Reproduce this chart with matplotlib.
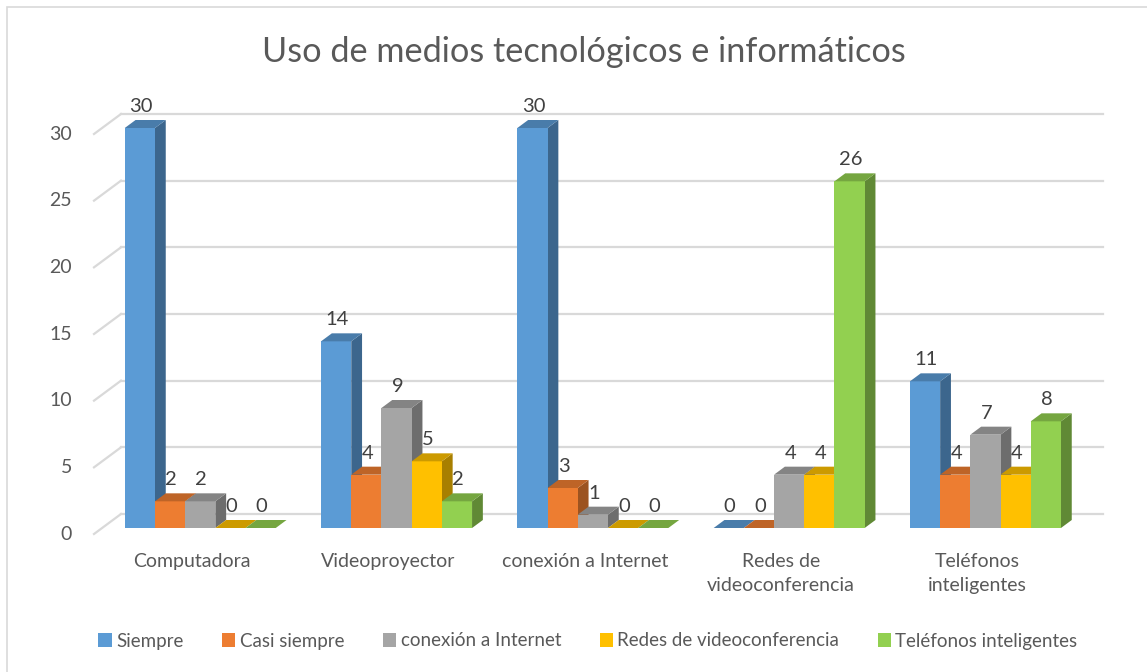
import numpy as np
import matplotlib.pyplot as plt
from matplotlib.patches import Polygon, Rectangle, Patch
from matplotlib.lines import Line2D
import matplotlib.colors as mcolors

# Datos del gráfico
categorias = ["Computadora", "Videoproyector", "conexión a Internet",
              "Redes de\nvideoconferencia", "Teléfonos\ninteligentes"]
series = ["Siempre", "Casi siempre", "conexión a Internet",
          "Redes de videoconferencia", "Teléfonos inteligentes"]
siempre = [30, 14, 30, 0, 11]
casi_siempre = [2, 4, 3, 0, 4]
conexion = [2, 9, 1, 4, 7]
redes = [0, 5, 0, 4, 4]
telefonos = [0, 2, 0, 26, 8]
valores = [siempre, casi_siempre, conexion, redes, telefonos]
colores = ["#5B9BD5", "#ED7D31", "#A5A5A5", "#FFC000", "#92D050"]
yticks = [0, 5, 10, 15, 20, 25, 30]

plt.rcParams['font.family'] = ['Lato', 'DejaVu Sans']

W, H = 1147, 672
fig = plt.figure(figsize=(W / 100, H / 100), dpi=100)

# borde del área del gráfico
fig.add_artist(Rectangle((7 / W, -0.1), 1.2, (H - 7) / H + 0.1, transform=fig.transFigure,
                         fill=False, edgecolor="#D9D9D9", lw=1.2))

# ejes: plano frontal, x de -0.5 a 4.5, y de 0 a 30
ax = fig.add_axes([94 / W, 138 / H, 981.5 / W, 400 / H])
ax.set_xlim(-0.5, 4.5)
ax.set_ylim(0, 30)
ax.axis("off")

# profundidad (en unidades de datos): 27 px en x, 20 px en y
px_x = 981.5 / 5
px_y = 400 / 30
DX = 27 / px_x
DY = 20 / px_y

# pared del fondo y líneas diagonales
gcol = "#D9D9D9"
for t in yticks:
    ax.add_line(Line2D([-0.5 + DX, 4.5 + DX], [t + DY, t + DY], color=gcol, lw=1.6,
                       clip_on=False, zorder=1))
    ax.add_line(Line2D([-0.5, -0.5 + DX], [t, t + DY], color=gcol, lw=1.6,
                       clip_on=False, zorder=1))
    ax.text(-0.5 - 22 / px_x, t, str(t), ha="right", va="center", fontsize=14,
            color="#595959")


def sombra(c, f):
    r, g, b = mcolors.to_rgb(c)
    return (r * f, g * f, b * f)


ancho = 30.2 / px_x
f0, f1 = 0.3, 0.7  # posición de la barra en profundidad
for i in range(len(categorias)):
    for j in range(len(series)):
        v = valores[j][i]
        x0 = i - 2.5 * ancho + j * ancho + f0 * DX
        x1 = x0 + ancho
        y0 = f0 * DY
        y1 = v + f0 * DY
        ddx = (f1 - f0) * DX
        ddy = (f1 - f0) * DY
        col = colores[j]
        z = 3 + j
        if v > 0:
            ax.add_patch(Polygon([[x1, y0], [x1 + ddx, y0 + ddy], [x1 + ddx, y1 + ddy], [x1, y1]],
                                 closed=True, facecolor=sombra(col, 0.66), edgecolor="none",
                                 zorder=z, clip_on=False))
            ax.add_patch(Rectangle((x0, y0), ancho, v, facecolor=col, edgecolor="none",
                                   zorder=z + 0.5, clip_on=False))
        ax.add_patch(Polygon([[x0, y1], [x1, y1], [x1 + ddx, y1 + ddy], [x0 + ddx, y1 + ddy]],
                             closed=True, facecolor=sombra(col, 0.8), edgecolor="none",
                             zorder=z + 0.6, clip_on=False))
        ax.text((x0 + x1) / 2 + 1 / px_x, y1 + 13 / px_y, str(v), ha="center", va="bottom",
                fontsize=14.5, color="#404040", zorder=20)

# etiquetas de categorías
for i, c in enumerate(categorias):
    ax.text(i, -19 / px_y, c, ha="center", va="top", fontsize=14, color="#595959",
            linespacing=1.5)

fig.text(584 / W, 1 - 52 / H, "Uso de medios tecnológicos e informáticos", ha="center",
         va="center", fontsize=24.7, color="#595959")

handles = [Patch(facecolor=c, edgecolor="none") for c in colores]
fig.legend(handles, series, loc="center", bbox_to_anchor=(588 / W, 1 - 641 / H), ncol=5,
           frameon=False, fontsize=13.5, handlelength=0.7, handleheight=0.7,
           handletextpad=0.25, columnspacing=2.05, labelcolor="#595959")

fig.savefig("out.png", dpi=100)
